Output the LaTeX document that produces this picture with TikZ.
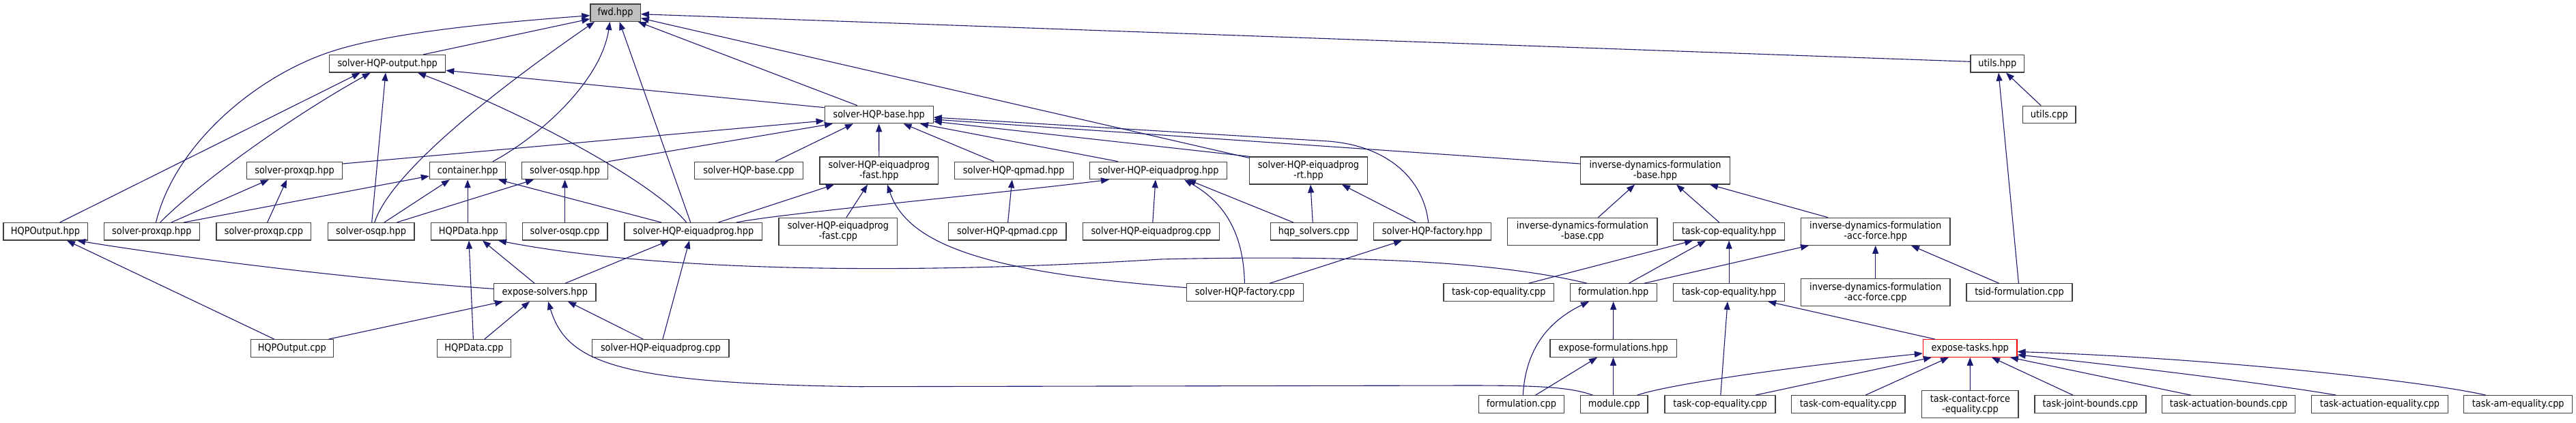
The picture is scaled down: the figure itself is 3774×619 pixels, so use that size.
\documentclass[tikz,border=0pt]{standalone}
\usepackage{fontspec}
\setmainfont{DejaVu Sans}[FakeStretch=0.89]
\usetikzlibrary{arrows.meta,calc}
\definecolor{edgeblue}{RGB}{25,25,112}
\definecolor{boxgray}{RGB}{64,64,64}
\definecolor{fillgray}{RGB}{191,191,191}
\begin{document}
\begin{tikzpicture}[x=1pt,y=-1pt,
  box/.style={draw=boxgray, line width=1.2pt, fill=white, rectangle, inner sep=0pt,
    minimum height=25.5pt, font=\fontsize{14.5}{15}\selectfont, text=black},
  box2/.style={box, minimum height=40pt, align=center},
  edge/.style={draw=edgeblue, line width=1.1pt, -{Triangle[length=12pt,width=9pt]}}]
\fill[white] (0,0) rectangle (3774,619);
\useasboundingbox (0,0) rectangle (3774,619);
% row 1
\node[box, fill=fillgray, minimum width=73.4pt] (fwd) at (901.6,18.7) {fwd.hpp};
% row 2
\node[box, minimum width=170pt] (output) at (567.7,93.3) {solver-HQP-output.hpp};
\node[box, minimum width=78.6pt] (utilsh) at (2926.3,93.3) {utils.hpp};
% row 3
\node[box, minimum width=159pt] (baseh) at (1287.7,168) {solver-HQP-base.hpp};
\node[box, minimum width=77.5pt] (utilscpp) at (3002.3,168) {utils.cpp};
% row 4
\node[box, minimum width=140pt] (proxA) at (431.5,250) {solver-proxqp.hpp};
\node[box, minimum width=111.4pt] (container) at (685.1,250) {container.hpp};
\node[box, minimum width=126.5pt] (osqpA) at (827.6,250) {solver-osqp.hpp};
\node[box, minimum width=158.3pt] (basecpp) at (1097,250) {solver-HQP-base.cpp};
\node[box2, minimum width=173.6pt] (fasth) at (1287.8,250) {solver-HQP-eiquadprog\\-fast.hpp};
\node[box, minimum width=173.8pt] (qpmadh) at (1485.2,250) {solver-HQP-qpmad.hpp};
\node[box, minimum width=201.5pt] (eiqA) at (1697,250) {solver-HQP-eiquadprog.hpp};
\node[box2, minimum width=173.2pt] (rt) at (1917,250) {solver-HQP-eiquadprog\\-rt.hpp};
\node[box2, minimum width=218.6pt] (idfbase) at (2425,250) {inverse-dynamics-formulation\\-base.hpp};
% row 5
\node[box, minimum width=123.2pt] (hqpouth) at (66.5,339.3) {HQPOutput.hpp};
\node[box, minimum width=140.3pt] (proxB) at (222.3,339.3) {solver-proxqp.hpp};
\node[box, minimum width=138.7pt] (proxcpp) at (386.4,339.3) {solver-proxqp.cpp};
\node[box, minimum width=126.9pt] (osqpB) at (543.6,339.3) {solver-osqp.hpp};
\node[box, minimum width=109.4pt] (hqpdatah) at (686.5,339.3) {HQPData.hpp};
\node[box, minimum width=124.9pt] (osqpcpp) at (827.6,339.3) {solver-osqp.cpp};
\node[box, minimum width=201.5pt] (eiqB) at (1015.8,339.3) {solver-HQP-eiquadprog.hpp};
\node[box2, minimum width=173.7pt] (fastcpp) at (1227.9,339.3) {solver-HQP-eiquadprog\\-fast.cpp};
\node[box, minimum width=172.2pt] (qpmadcpp) at (1475.8,339.3) {solver-HQP-qpmad.cpp};
\node[box, minimum width=200pt] (eiqcppA) at (1686.4,339.3) {solver-HQP-eiquadprog.cpp};
\node[box, minimum width=127pt] (hqpsolvers) at (1925,339.3) {hqp\_solvers.cpp};
\node[box, minimum width=172.6pt] (factoryh) at (2098.5,339.3) {solver-HQP-factory.hpp};
\node[box2, minimum width=219.2pt] (idfbasecpp) at (2318.4,339.3) {inverse-dynamics-formulation\\-base.cpp};
\node[box, minimum width=163pt] (copA) at (2533.1,339.3) {task-cop-equality.hpp};
\node[box2, minimum width=218.7pt] (accforceh) at (2747.7,339.3) {inverse-dynamics-formulation\\-acc-force.hpp};
% row 6
\node[box, minimum width=149.4pt] (exposesolvers) at (798.3,428.6) {expose-solvers.hpp};
\node[box, minimum width=170.8pt] (factorycpp) at (1824,428.6) {solver-HQP-factory.cpp};
\node[box, minimum width=161.6pt] (copcppA) at (2195.8,428.6) {task-cop-equality.cpp};
\node[box, minimum width=127pt] (formulationh) at (2363.7,428.6) {formulation.hpp};
\node[box, minimum width=163pt] (copB) at (2533.1,428.6) {task-cop-equality.hpp};
\node[box2, minimum width=218.7pt] (accforcecpp) at (2747.7,428.6) {inverse-dynamics-formulation\\-acc-force.cpp};
\node[box, minimum width=155pt] (tsid) at (2958.5,428.6) {tsid-formulation.cpp};
% row 7
\node[box, minimum width=121.2pt] (hqpoutcpp) at (427.8,510.5) {HQPOutput.cpp};
\node[box, minimum width=108.1pt] (hqpdatacpp) at (694.5,510.5) {HQPData.cpp};
\node[box, minimum width=200.3pt] (eiqcppB) at (967.9,510.5) {solver-HQP-eiquadprog.cpp};
\node[box, minimum width=185.2pt] (exposeform) at (2363.5,510.5) {expose-formulations.hpp};
\node[box, draw=red, minimum width=137.5pt] (exposetasks) at (2886.2,510.5) {expose-tasks.hpp};
% row 8
\node[box, minimum width=125.3pt] (formcpp) at (2229,592.5) {formulation.cpp};
\node[box, minimum width=98.3pt] (module) at (2364.9,592.5) {module.cpp};
\node[box, minimum width=162pt] (copcppB) at (2520,592.5) {task-cop-equality.cpp};
\node[box, minimum width=166.5pt] (com) at (2707.7,592.5) {task-com-equality.cpp};
\node[box2, minimum width=141.2pt] (contact) at (2886.4,592.5) {task-contact-force\\-equality.cpp};
\node[box, minimum width=163pt] (joint) at (3062.5,592.5) {task-joint-bounds.cpp};
\node[box, minimum width=195.2pt] (actb) at (3265.1,592.5) {task-actuation-bounds.cpp};
\node[box, minimum width=199.5pt] (acte) at (3486.5,592.5) {task-actuation-equality.cpp};
\node[box, minimum width=159pt] (am) at (3689.2,592.5) {task-am-equality.cpp};

% ---- edges ----
% to fwd
\draw[edge] ($(output.north)+(52.3,0)$) -- ($(fwd.west)+(0,9)$);
\draw[edge] ($(utilsh.west)+(0,-3)$) -- ($(fwd.east)+(0,2)$);
\draw[edge] ($(baseh.north)+(-31.7,0)$) -- ($(fwd.south east)+(-4,0)$);
\draw[edge] ($(container.north)+(37,0)$) .. controls (790,200) and (880,120) .. ($(fwd.south)+(-8,0)$);
\draw[edge] ($(osqpB.north)+(5.2,0)$) .. controls (570,260) and (700,150) .. ($(fwd.south)+(-30.6,0)$);
\draw[edge] ($(eiqB.north)+(-4.1,0)$) -- ($(fwd.south)+(6,0)$);
\draw[edge] ($(rt.north west)+(0,2)$) -- ($(fwd.east)+(0,8)$);
\draw[edge] ($(proxB.north)+(6.2,0)$) .. controls (255,215) and (370,115) .. (481,77) .. controls (560,50) and (700,35) .. ($(fwd.west)+(0,4)$);
% to output
\draw[edge] ($(hqpouth.north)+(21.2,0)$) -- ($(output.south)+(-40,0)$);
\draw[edge] ($(proxB.north)+(12.3,0)$) .. controls (290,270) and (420,175) .. ($(output.south)+(-25,0)$);
\draw[edge] ($(osqpB.north)+(1.1,0)$) -- ($(output.south)+(-2.7,0)$);
\draw[edge] ($(eiqB.north)+(-10.2,0)$) .. controls (960,270) and (780,170) .. ($(output.south)+(44.3,0)$);
\draw[edge] ($(baseh.north west)+(0,3)$) -- ($(output.east)+(0,10)$);
% to utils
\draw[edge] ($(utilscpp.north)+(-12.3,0)$) -- ($(utilsh.south)+(12.7,0)$);
\draw[edge] ($(tsid.north)+(-1.1,0)$) -- ($(utilsh.south)+(1.7,0)$);
% to solver-HQP-base.hpp
\draw[edge] ($(proxA.east)+(0,-10)$) -- ($(baseh.west)+(0,9)$);
\draw[edge] (osqpA.north east) -- ($(baseh.south)+(-67.7,0)$);
\draw[edge] ($(basecpp.north)+(39,0)$) -- ($(baseh.south)+(-37.7,0)$);
\draw[edge] (fasth.north) -- (baseh.south);
\draw[edge] ($(qpmadh.north)+(-29,0)$) -- ($(baseh.south)+(35.9,0)$);
\draw[edge] ($(eiqA.north)+(-59.2,0)$) -- ($(baseh.south)+(60.3,0)$);
\draw[edge] ($(rt.north west)+(1,0)$) -- ($(baseh.east)+(0,10)$);
\draw[edge] ($(factoryh.north)+(-5.9,0)$) .. controls (2085,260) and (2030,212) .. (1941.6,206.7) -- ($(baseh.east)+(0,4)$);
\draw[edge] ($(idfbase.west)+(0,-10)$) -- ($(baseh.east)+(0,7)$);
% to solver-proxqp.hpp (upper)
\draw[edge] ($(proxB.north)+(28.7,0)$) -- ($(proxA.south)+(-37.8,0)$);
\draw[edge] ($(proxcpp.north)+(5.3,0)$) -- ($(proxA.south)+(-11.3,0)$);
% to container
\draw[edge] ($(hqpdatah.north)+(-1.4,0)$) -- (container.south);
\draw[edge] ($(osqpB.north)+(19.4,0)$) -- ($(container.south)+(-26.3,0)$);
\draw[edge] ($(proxB.north)+(47,0)$) -- ($(container.west)+(0,8)$);
\draw[edge] ($(eiqB.north)+(-47,0)$) -- ($(container.south)+(45,0)$);
% to solver-osqp.hpp (upper)
\draw[edge] ($(osqpB.north)+(37.8,0)$) -- ($(osqpA.south)+(-45.6,0)$);
\draw[edge] (osqpcpp.north) -- (osqpA.south);
% to eiquadprog-fast.hpp
\draw[edge] ($(fastcpp.north)+(12.1,0)$) -- ($(fasth.south)+(-16.8,0)$);
\draw[edge] ($(factorycpp.west)+(0,-7)$) .. controls (1450,400) and (1330,360) .. ($(fasth.south)+(12.2,0)$);
\draw[edge] ($(eiqB.north)+(36.7,0)$) -- ($(fasth.south)+(-65.8,0)$);
% to qpmad
\draw[edge] ($(qpmadcpp.north)+(0.8,0)$) -- ($(qpmadh.south)+(-2.4,0)$);
% to eiquadprog.hpp (upper)
\draw[edge] ($(eiqB.north)+(63.2,0)$) .. controls (1150,312) and (1450,285) .. ($(eiqA.south)+(-72,0)$);
\draw[edge] ($(eiqcppA.north)+(2.4,0)$) -- ($(eiqA.south)+(-4.1,0)$);
\draw[edge] ($(factorycpp.north)+(-0.6,0)$) .. controls (1822,350) and (1800,300) .. ($(eiqA.south)+(38,0)$);
\draw[edge] ($(hqpsolvers.north)+(-30.3,0)$) -- ($(eiqA.south)+(43,0)$);
% to rt
\draw[edge] ($(hqpsolvers.north)+(-1.8,0)$) -- ($(rt.south)+(3,0)$);
\draw[edge] ($(factoryh.north)+(-24.3,0)$) -- ($(rt.south)+(49,0)$);
% to inverse-dynamics-formulation-base.hpp
\draw[edge] ($(idfbasecpp.north)+(23,0)$) -- ($(idfbase.south)+(-30,0)$);
\draw[edge] ($(copA.north)+(-14.3,0)$) -- ($(idfbase.south)+(31,0)$);
\draw[edge] ($(accforceh.north)+(-69.8,0)$) -- ($(idfbase.south)+(80,0)$);
% to HQPOutput.hpp
\draw[edge] ($(exposesolvers.west)+(0,-5.3)$) .. controls (500,408) and (250,375) .. ($(hqpouth.south)+(46.5,0)$);
\draw[edge] ($(hqpoutcpp.north)+(-25.9,0)$) -- ($(hqpouth.south)+(31.5,0)$);
% to HQPData.hpp
\draw[edge] ($(hqpdatacpp.north)+(-1.1,0)$) -- ($(hqpdatah.south)+(0.5,0)$);
\draw[edge] ($(exposesolvers.north)+(-15.1,0)$) -- ($(hqpdatah.south)+(20.5,0)$);
\draw[edge] ($(formulationh.north)+(-38.6,0)$) .. controls (2200,385) and (2000,373) .. (1700,380) .. controls (1300,405) and (950,395) .. ($(hqpdatah.south)+(43.5,0)$);
% to eiquadprog.hpp (lower)
\draw[edge] ($(exposesolvers.north)+(29.7,0)$) -- ($(eiqB.south)+(-35.8,0)$);
\draw[edge] ($(eiqcppB.north)+(3,0)$) -- ($(eiqB.south)+(-5.8,0)$);
% to factory.hpp
\draw[edge] ($(factorycpp.north)+(36,0)$) -- ($(factoryh.south)+(-44.5,0)$);
% to task-cop-equality.hpp (upper)
\draw[edge] ($(copcppA.north)+(43.6,0)$) -- ($(copA.south)+(-53,0)$);
\draw[edge] ($(formulationh.north)+(22.6,0)$) -- ($(copA.south)+(-34,0)$);
\draw[edge] (copB.north) -- (copA.south);
% to acc-force.hpp
\draw[edge] ($(formulationh.north)+(45,0)$) -- ($(accforceh.south)+(-97.7,0)$);
\draw[edge] (accforcecpp.north) -- (accforceh.south);
\draw[edge] ($(tsid.north)+(-29.7,0)$) -- ($(accforceh.south)+(52.3,0)$);
% to expose-solvers.hpp
\draw[edge] ($(hqpoutcpp.north)+(53.6,0)$) -- ($(exposesolvers.south)+(-61.3,0)$);
\draw[edge] ($(hqpdatacpp.north)+(15.3,0)$) -- ($(exposesolvers.south)+(-22.3,0)$);
\draw[edge] ($(module.north)+(-31.6,0)$) .. controls (2300,567) and (2250,565) .. (2150,565) -- (1260,566.7) .. controls (900,562) and (830,530) .. ($(exposesolvers.south)+(4.7,0)$);
\draw[edge] ($(eiqcppB.north)+(-25.6,0)$) -- ($(exposesolvers.south)+(33.7,0)$);
% to formulation.hpp
\draw[edge] ($(formcpp.north)+(2.3,0)$) .. controls (2235,510) and (2270,470) .. ($(formulationh.south)+(-35.7,0)$);
\draw[edge] (exposeform.north) -- (formulationh.south);
% to task-cop-equality.hpp (lower)
\draw[edge] ($(copcppB.north)+(0.8,0)$) -- ($(copB.south)+(-2.1,0)$);
\draw[edge] ($(exposetasks.north)+(-51.2,0)$) -- ($(copB.south)+(57,0)$);
% to expose-formulations.hpp
\draw[edge] ($(formcpp.north)+(20.6,0)$) -- ($(exposeform.south)+(-23.5,0)$);
\draw[edge] ($(module.north)+(-1.4,0)$) -- (exposeform.south);
% to expose-tasks.hpp
\draw[edge] ($(module.north)+(33.7,0)$) .. controls (2440,565) and (2600,540) .. ($(exposetasks.west)+(0,7.5)$);
\draw[edge] ($(copcppB.north)+(51.8,0)$) -- ($(exposetasks.south)+(-56.2,0)$);
\draw[edge] ($(com.north)+(25.3,0)$) -- ($(exposetasks.south)+(-31.2,0)$);
\draw[edge] (contact.north) -- (exposetasks.south);
\draw[edge] ($(joint.north)+(-25.5,0)$) -- ($(exposetasks.south)+(31.8,0)$);
\draw[edge] ($(actb.north)+(-55.4,0)$) -- ($(exposetasks.south)+(58.8,0)$);
\draw[edge] ($(acte.north)+(-64,0)$) .. controls (3330,563) and (3100,535) .. ($(exposetasks.east)+(0,9.5)$);
\draw[edge] ($(am.north)+(-47.4,0)$) .. controls (3560,560) and (3250,525) .. ($(exposetasks.east)+(0,5)$);
\end{tikzpicture}
\end{document}
